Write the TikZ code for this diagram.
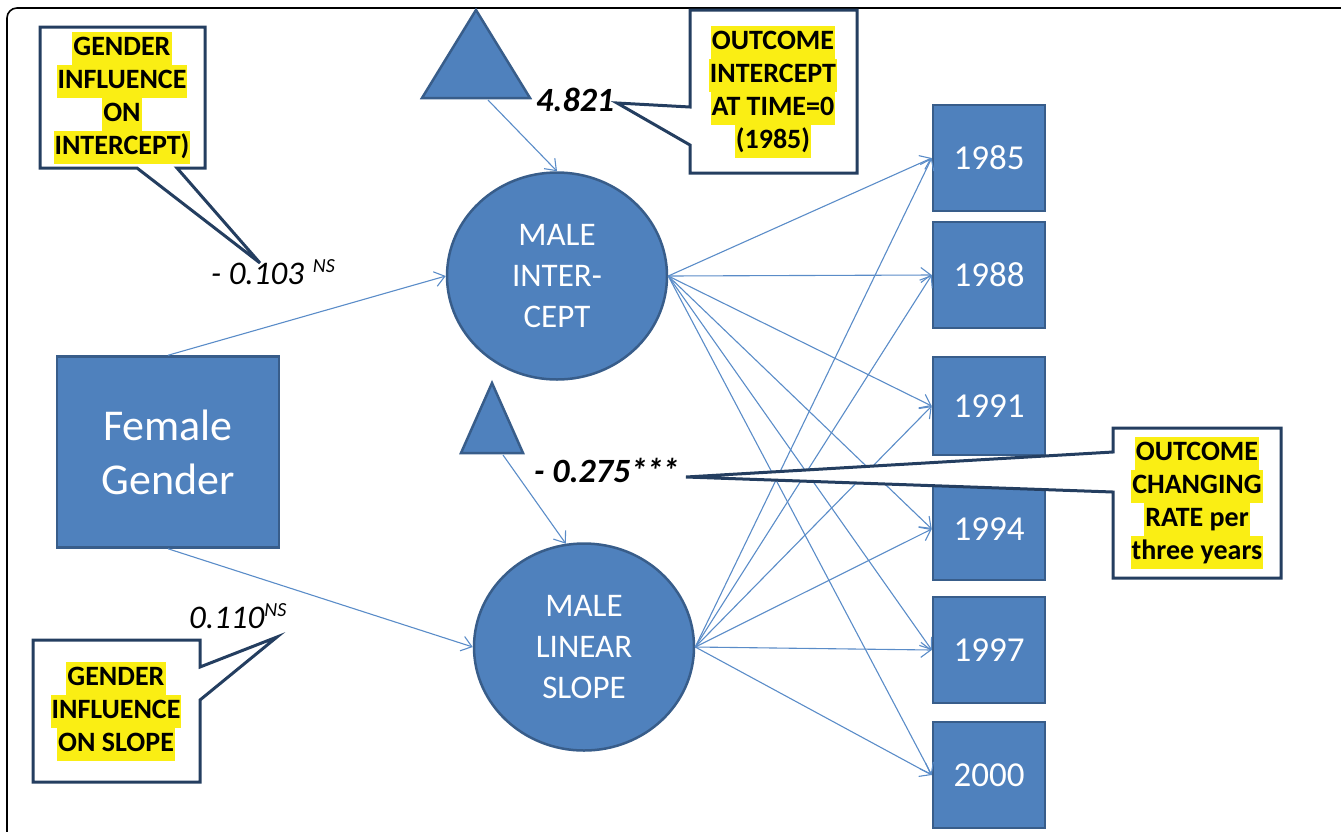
\documentclass[tikz,border=0pt]{standalone}
\usepackage{fontspec}
\setmainfont{Carlito}
\usetikzlibrary{arrows.meta,shapes.geometric}
\definecolor{boxblue}{RGB}{79,129,189}
\definecolor{boxedge}{RGB}{56,93,138}
\definecolor{lineblue}{RGB}{90,140,200}
\definecolor{calloutedge}{RGB}{36,62,96}
\definecolor{hly}{RGB}{250,238,20}
\tikzset{
  bluebox/.style={draw=boxedge, fill=boxblue, line width=2.5pt, text=white, inner sep=0pt},
  yearbox/.style={bluebox, minimum width=112pt, minimum height=106pt, font=\fontsize{35}{40}\selectfont},
  latent/.style={bluebox, ellipse, minimum width=220pt, minimum height=207pt, align=center, font=\fontsize{33}{41}\selectfont},
  path/.style={draw=lineblue, line width=1.1pt, -{Straight Barb[length=10pt,width=15pt,line width=1.1pt]}},
  callout/.style={draw=calloutedge, fill=white, line width=3pt, line join=miter},
  hl/.style={fill=hly, inner xsep=1pt, inner ysep=0pt, text height=24pt, text depth=9pt, font=\bfseries\fontsize{28}{33}\selectfont},
  coef/.style={inner sep=0pt, font=\fontsize{33}{38}\selectfont},
  bcoef/.style={inner sep=0pt, font=\bfseries\itshape\fontsize{34}{38}\selectfont},
  tri/.style={draw=boxedge, fill=boxblue, line width=2.5pt, line join=miter}
}
\begin{document}
\begin{tikzpicture}[x=1pt,y=-1pt]
\useasboundingbox (0,0) rectangle (1341,831);
% frame
\draw[line width=1.6pt, rounded corners=10pt] (7,835) -- (7,8) -- (1345,8);

% nodes
\node[bluebox, minimum width=222pt, minimum height=191pt, align=center, font=\fontsize{44}{54}\selectfont] (fg) at (168,452) {Female\\Gender};
\node[latent] (mi) at (557,276) {MALE\\INTER-\\CEPT};
\node[latent] (ms) at (584,647) {MALE\\LINEAR\\SLOPE};

\node[yearbox] (y1985) at (989,158) {1985};
\node[yearbox] (y1988) at (989,275) {1988};
\node[yearbox, minimum height=98pt] (y1991) at (989,406) {1991};
\node[yearbox, minimum height=102pt] (y1994) at (989,529) {1994};
\node[yearbox] (y1997) at (989,650) {1997};
\node[yearbox] (y2000) at (989,775) {2000};

% triangles
\draw[tri] (476,10) -- (530,98) -- (422,98) -- cycle;
\draw[tri] (492,383) -- (523,453) -- (461,453) -- cycle;
\coordinate (t1) at (488,100);
\coordinate (t2) at (503,455);

% paths
\draw[path] (t1) -- (mi.north);
\draw[path] (t2) -- (ms.100);
\draw[path] (fg.north) -- (mi.west);
\draw[path] (fg.south) -- (ms.west);
\foreach \y in {1985,1988,1991,1994,1997,2000}{
  \draw[path] (mi.east) -- (y\y.west);
  \draw[path] (ms.east) -- (y\y.west);
}

% callouts
\draw[callout] (40,27) -- (205,27) -- (205,168) -- (177,168) -- (260,263) -- (137,168) -- (40,168) -- cycle;
\draw[callout] (690,10) -- (857,10) -- (857,173) -- (690,173) -- (690,145) -- (617,103) -- (690,107) -- cycle;
\draw[callout] (1113,428) -- (1281,428) -- (1281,578) -- (1113,578) -- (1113,492) -- (686,477) -- (1113,452) -- cycle;
\draw[callout] (33,640) -- (200,640) -- (200,667) -- (277,637) -- (200,700) -- (200,782) -- (33,782) -- cycle;

% callout texts
\node[hl] (c1a) at (122,48) {GENDER};
\node[hl] (c1b) at (122,81) {INFLUENCE};
\node[hl] (c1c) at (122,114) {ON};
\node[hl] (c1d) at (122,147) {INTERCEPT)};

\node[hl] (c2a) at (773,42) {OUTCOME};
\node[hl] (c2b) at (773,75) {INTERCEPT};
\node[hl] (c2c) at (773,108) {AT TIME=0};
\node[hl] (c2d) at (773,141) {(1985)};

\node[hl] (c3a) at (1197,453) {OUTCOME};
\node[hl] (c3b) at (1197,486) {CHANGING};
\node[hl] (c3c) at (1197,519) {RATE per};
\node[hl] (c3d) at (1197,552) {three years};

\node[hl] (c4a) at (116,678) {GENDER};
\node[hl] (c4b) at (116,711) {INFLUENCE};
\node[hl] (c4c) at (116,744) {ON SLOPE};

% coefficients
\node[coef, anchor=base west] (k1) at (211,284) {\itshape - 0.103\hspace{9pt}\raisebox{12pt}{\fontsize{20}{21}\selectfont NS}};
\node[bcoef, anchor=base west] (k2) at (536,111) {4.821};
\node[bcoef, anchor=base west] (k3) at (534,482) {- 0.275*\kern-1pt*\kern-1pt*};
\node[coef, anchor=base west] (k4) at (189,628) {\itshape 0.110\raisebox{12pt}{\fontsize{20}{21}\selectfont NS}};
\end{tikzpicture}
\end{document}
